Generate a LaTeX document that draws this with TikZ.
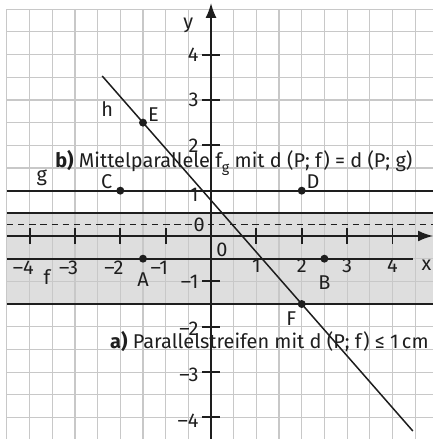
\documentclass[tikz,border=0pt]{standalone}
\usepackage{fontspec}
\setmainfont{Fira Sans}
\usetikzlibrary{calc,arrows.meta}
\definecolor{ink}{HTML}{1E1E1E}
\definecolor{gridgray}{HTML}{C8C8C8}
\definecolor{stripgray}{HTML}{DEDEDE}
\begin{document}
\begin{tikzpicture}[x=1cm,y=1cm,
  gridline/.style={draw=gridgray, line width=0.7pt},
  boldline/.style={draw=ink, line width=1.15pt},
  axisline/.style={draw=ink, line width=1.15pt},
  ptdot/.style={circle, fill=ink, inner sep=0pt, minimum size=5pt},
  lbl/.style={font=\fontsize{12.5}{14}\selectfont, text=ink, inner sep=0pt},
  tickl/.style={draw=ink, line width=1.15pt}
]
\useasboundingbox (-4.653,-4.476) rectangle (4.895,5.204);
% strip
\fill[stripgray] (-4.5,-1.5) rectangle (4.895,0.5);
% grid
\draw[gridline] (-4.5,-4.476) grid[step=0.5] (4.895,5);
% coordinates
\coordinate (gL) at (-4.5,1);   \coordinate (gR) at (4.895,1);
\coordinate (uL) at (-4.5,0.5); \coordinate (uR) at (4.895,0.5);
\coordinate (lL) at (-4.5,-1.5);\coordinate (lR) at (4.895,-1.5);
\coordinate (fL) at (-4.5,-0.5);\coordinate (fR) at (4.45,-0.5);
\coordinate (mL) at (-4.5,0.25);\coordinate (mR) at (4.895,0.25);
\coordinate (xL) at (-4.5,0);   \coordinate (xR) at (4.895,0);
\coordinate (yB) at (0,-4.476); \coordinate (yT) at (0,5.14);
% lines
\draw[boldline] (gL) -- (gR);
\draw[boldline] (uL) -- (uR);
\draw[boldline] (lL) -- (lR);
\draw[boldline] (fL) -- (fR);
\draw[draw=ink, line width=0.7pt, dash pattern=on 4pt off 3pt] (mL) -- (mR);
\draw[axisline, -{Latex[length=3.3mm,width=2.4mm]}] (xL) -- (xR);
\draw[axisline, -{Latex[length=3.3mm,width=2.4mm]}] (yB) -- (yT);
% ticks
\foreach \k in {-4,-3,-2,-1,1,2,3,4} {
  \draw[tickl] (\k,-0.18) -- (\k,0.18);
  \draw[tickl] (-0.2,\k) -- (0.2,\k);
}
% points
\node[ptdot] (A) at (-1.5,-0.5) {};
\node[ptdot] (B) at (2.5,-0.5) {};
\node[ptdot] (C) at (-2,1) {};
\node[ptdot] (D) at (2,1) {};
\node[ptdot] (E) at (-1.5,2.5) {};
\node[ptdot] (F) at (2,-1.5) {};
% line h
\draw[draw=ink, line width=0.95pt] ($(E)!-0.257!(F)$) -- ($(E)!1.7!(F)$);
% point labels
\node[lbl] (lA) at (-1.5,-0.97) {A};
\node[lbl] (lB) at (2.5,-1.03) {B};
\node[lbl] (lC) at (-2.3,1.2) {C};
\node[lbl] (lD) at (2.25,1.2) {D};
\node[lbl] (lE) at (-1.27,2.67) {E};
\node[lbl] (lF) at (1.77,-1.82) {F};
\node[lbl] (lh) at (-2.29,2.81) {h};
\node[lbl] (lg) at (-3.73,1.28) {g};
\node[lbl] (lf) at (-3.62,-0.9) {f};
\node[lbl] (ly) at (-0.5,4.65) {y};
\node[lbl] (lx) at (4.75,-0.64) {x};
% axis labels
\foreach \k/\t in {-4/–4,-3/–3,-2/–2,-1/–1} {
  \node[lbl] at (\k-0.14,-0.7) {\t};
}
\foreach \k in {1,2,3,4} {
  \node[lbl] at (\k,-0.66) {\k};
}
\foreach \t/\yy in {4/3.99,3/3.0,2/2.0,1/0.9,–1/-1.0,–2/-2.05,–3/-3.07,–4/-4.08} {
  \node[lbl, anchor=east] at (-0.27,\yy) {\t};
}
\node[lbl] (o1) at (-0.26,0.24) {0};
\node[lbl] (o2) at (0.24,-0.3) {0};
% texts
\node[lbl, anchor=base west] (tb) at (-3.44,1.52) {\textbf{b)} Mittelparallele f\raisebox{-0.55ex}{\fontsize{9}{10}\selectfont g} mit d (P; f) = d (P; g)};
\node[lbl, anchor=base west] (ta) at (-2.23,-2.47) {\textbf{a)} Parallelstreifen mit d (P; f) ≤ 1\,cm};
\end{tikzpicture}
\end{document}
